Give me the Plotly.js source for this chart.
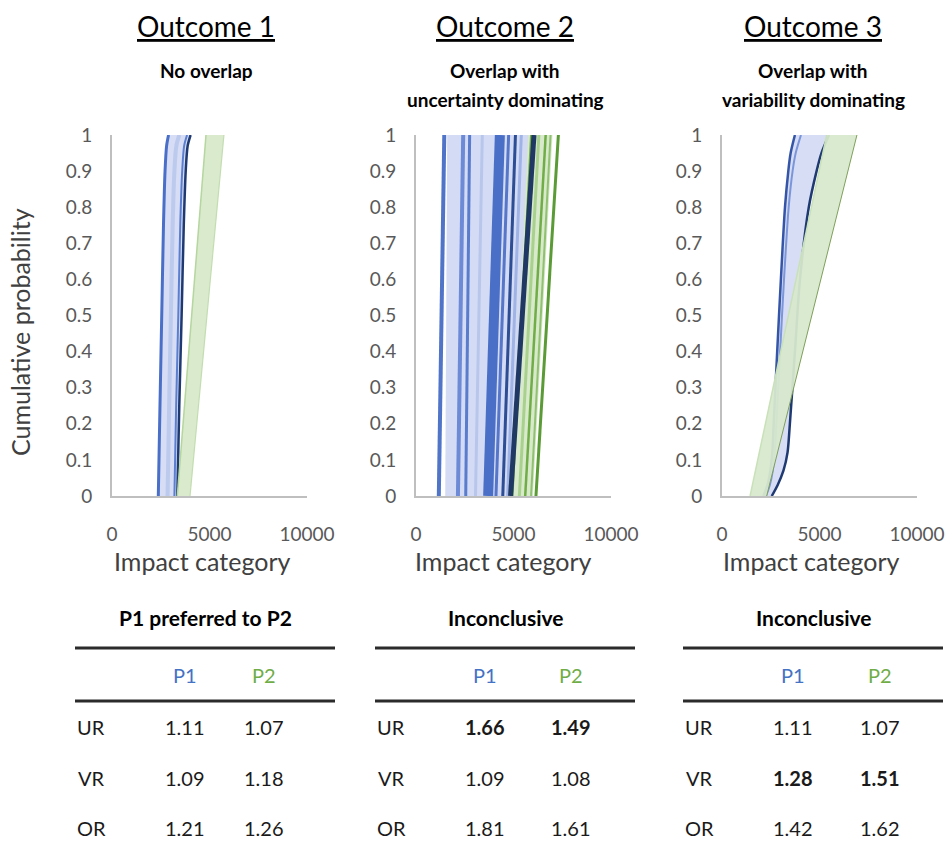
<!DOCTYPE html>
<html><head><meta charset="utf-8">
<script src="https://cdn.plot.ly/plotly-3.0.1.min.js"></script>
<style>html,body{margin:0;padding:0;background:#fff}#chart{width:952px;height:849px}</style>
</head><body><div id="chart"></div>
<script>
// ---------------- data ----------------
const outcomeTitles = ['Outcome 1', 'Outcome 2', 'Outcome 3'];
const outcomeSubtitles = [['No overlap'], ['Overlap with', 'uncertainty dominating'], ['Overlap with', 'variability dominating']];
const xTickVals = [0, 5000, 10000];
const xTickText = ['0', '5000', '10000'];
const yTickVals = [0, 0.1, 0.2, 0.3, 0.4, 0.5, 0.6, 0.7, 0.8, 0.9, 1];
const yTickText = ['0', '0.1', '0.2', '0.3', '0.4', '0.5', '0.6', '0.7', '0.8', '0.9', '1'];
const xAxisTitle = 'Impact category';
const yAxisTitle = 'Cumulative probability';

// Outcome 1: no overlap
const o1Prob = [0, 0.25, 0.5, 0.75, 0.9, 0.97, 1];
const o1P1Left = [2375, 2460, 2550, 2640, 2720, 2800, 2900];
const o1P1Mid = [2850, 2930, 3020, 3110, 3200, 3300, 3450];
const o1P1Inner = [3200, 3290, 3400, 3500, 3600, 3700, 3850];
const o1P1Right = [3350, 3450, 3570, 3680, 3780, 3880, 4030];
const o1P2Prob = [0, 1];
const o1P2Left = [3350, 4820];
const o1P2Right = [4000, 5740];

// Outcome 2: overlap, uncertainty dominating
const o2Prob = [0, 1];
const o2P1BandLeft = [1500, 1600];
const o2P1BandRight = [4900, 5750];
const o2P1Bottom = [1170, 2150, 2550, 3050, 3700, 4100, 4450, 4700, 4850];
const o2P1Top = [1450, 2420, 2750, 3400, 4300, 4750, 5100, 5400, 6050];
const o2P2BandLeft = [4750, 5500];
const o2P2BandRight = [6000, 7000];
const o2P2Bottom = [4950, 5300, 5600, 5900, 6150];
const o2P2Top = [5900, 6300, 6650, 6900, 7300];

// Outcome 3: overlap, variability dominating
const o3Prob = [0, 0.03, 0.07, 0.12, 0.2, 0.4, 0.6, 0.8, 0.9, 0.95, 1];
const o3P1Left = [2120, 2330, 2480, 2580, 2650, 2830, 3020, 3230, 3400, 3520, 3740];
const o3P1Inner = [2250, 2450, 2600, 2700, 2790, 2980, 3180, 3420, 3620, 3780, 4050];
const o3P1Right = [2550, 2850, 3150, 3360, 3480, 3740, 4000, 4450, 4850, 5100, 5490];
const o3P2Prob = [0, 1];
const o3P2Left = [1440, 5370];
const o3P2Right = [2290, 6920];

// Tables
const tableVerdicts = ['P1 preferred to P2', 'Inconclusive', 'Inconclusive'];
const tableColumns = ['P1', 'P2'];
const rowLabels = ['UR', 'VR', 'OR'];
const p1Values = [[1.11, 1.09, 1.21], [1.66, 1.09, 1.81], [1.11, 1.28, 1.42]];
const p2Values = [[1.07, 1.18, 1.26], [1.49, 1.08, 1.61], [1.07, 1.51, 1.62]];
const highlightedRow = [-1, 0, 1];

// ---------------- drawing ----------------
const FONT = 'Lato, "Open Sans", sans-serif';
const W = 952, H = 849;
const px = v => v / W;
const py = v => 1 - v / H;

const plotLeft = [112, 416, 722];
const plotWidth = 195;
const plotTop = 135, plotBottom = 496;

const BLUE = '#4472c4', GREEN = '#70ad47';
const traces = [];
const axSuffix = i => (i === 0 ? '' : String(i + 1));

// filled band between a left and a right cumulative curve (closed polygon built from the two curves)
function band(i, yL, xL, yR, xR, color) {
  const s = axSuffix(i);
  traces.push({type: 'scatter', mode: 'lines',
    x: xL.concat(xR.slice().reverse()), y: yL.concat(yR.slice().reverse()),
    xaxis: 'x' + s, yaxis: 'y' + s, fill: 'toself', fillcolor: color,
    line: {width: 0, color: color}, hoverinfo: 'skip', showlegend: false});
}
function curve(i, y, x, color, width) {
  const s = axSuffix(i);
  traces.push({type: 'scatter', mode: 'lines', x: x, y: y, xaxis: 'x' + s, yaxis: 'y' + s,
    line: {width: width, color: color, shape: 'spline', smoothing: 0.8}, hoverinfo: 'skip', showlegend: false});
}

// Panel 1
band(0, o1Prob, o1P1Left, o1Prob, o1P1Right, '#d6ddf4');
curve(0, o1Prob, o1P1Mid, '#bccaee', 4);
curve(0, o1Prob, o1P1Left, '#4a6fc8', 3);
curve(0, o1Prob, o1P1Inner, '#5b7fd0', 2);
curve(0, o1Prob, o1P1Right, '#1f3a72', 2.5);
band(0, o1P2Prob, o1P2Left, o1P2Prob, o1P2Right, '#d9eacd');
curve(0, o1P2Prob, o1P2Left, '#b5d69e', 1.5);
curve(0, o1P2Prob, o1P2Right, '#c3ddb1', 1.2);

// Panel 2
const o2P1Colors = ['#4f74c8', '#6d8ad6', '#5a7ccc', '#b8c6ec', '#4a6fc7', '#5576c9', '#2d4d94', '#9fb3e6', '#1f3864'];
const o2P1Widths = [4, 4, 3, 3, 10, 3, 3, 3, 5];
const o2P2Colors = ['#70ad47', '#a9d18e', '#70ad47', '#8fc16f', '#5b9b36'];
const o2P2Widths = [2, 3, 2.5, 2, 3];
band(1, o2Prob, o2P2BandLeft, o2Prob, o2P2BandRight, '#d8e9cc');
o2P2Bottom.forEach((b, k) => curve(1, o2Prob, [b, o2P2Top[k]], o2P2Colors[k], o2P2Widths[k]));
band(1, o2Prob, o2P1BandLeft, o2Prob, o2P1BandRight, 'rgba(208,216,243,0.92)');
o2P1Bottom.forEach((b, k) => curve(1, o2Prob, [b, o2P1Top[k]], o2P1Colors[k], o2P1Widths[k]));

// Panel 3
band(2, o3Prob, o3P1Left, o3Prob, o3P1Right, '#d6ddf4');
curve(2, o3Prob, o3P1Left, '#3556a8', 2.5);
curve(2, o3Prob, o3P1Inner, '#7b95da', 2);
curve(2, o3Prob, o3P1Right, '#1f3a72', 2.5);
band(2, o3P2Prob, o3P2Left, o3P2Prob, o3P2Right, 'rgba(216,233,205,0.94)');
curve(2, o3P2Prob, o3P2Left, '#c9e1b8', 1.5);
curve(2, o3P2Prob, o3P2Right, '#7f9f5a', 1);

// Axes
const layout = {
  width: W, height: H,
  margin: {l: 0, r: 0, t: 0, b: 0},
  paper_bgcolor: '#ffffff', plot_bgcolor: 'rgba(0,0,0,0)',
  showlegend: false,
  font: {family: FONT, color: '#595959'},
  annotations: [], shapes: []
};
for (let i = 0; i < 3; i++) {
  const s = axSuffix(i);
  layout['xaxis' + s] = {
    domain: [px(plotLeft[i]), px(plotLeft[i] + plotWidth)], anchor: 'y' + s,
    range: [0, 10000], tickvals: xTickVals, ticktext: xTickText,
    showgrid: false, zeroline: false, showline: true, linecolor: '#bfbfbf', linewidth: 2,
    ticks: '', ticklabelstandoff: 20, tickfont: {family: FONT, size: 19, color: '#595959'}, fixedrange: true
  };
  layout['yaxis' + s] = {
    domain: [py(plotBottom), py(plotTop)], anchor: 'x' + s,
    range: [0, 1], tickvals: yTickVals, ticktext: yTickText,
    showgrid: false, zeroline: false, showline: true, linecolor: '#bfbfbf', linewidth: 2,
    ticks: '', ticklabelstandoff: 14, tickfont: {family: FONT, size: 19, color: '#595959'}, fixedrange: true
  };
}

const ann = (x, y, text, size, color, extra) => layout.annotations.push(Object.assign({
  xref: 'paper', yref: 'paper', x: px(x), y: py(y), text: text, showarrow: false,
  xanchor: 'center', yanchor: 'middle', font: {family: FONT, size: size, color: color}
}, extra || {}));

const titleCenters = [206, 505, 813];
const axisTitleCenters = [202, 503, 811];
for (let i = 0; i < 3; i++) {
  ann(titleCenters[i], 26, '<u>' + outcomeTitles[i] + '</u>', 28, '#000000');
  outcomeSubtitles[i].forEach((line, k) => ann(titleCenters[i], 70 + 30 * k, '<b>' + line + '</b>', 19, '#000000'));
  ann(axisTitleCenters[i], 561, xAxisTitle, 25, '#404040');
}
ann(20, 332, yAxisTitle, 25, '#404040', {textangle: -90});

// Tables
const tableLeft = [75, 375, 683];
const tableWidth = 260;
const labelOffset = 16, p1Offset = 110, p2Offset = [189, 196, 197];
const rowY = [727, 778, 828];
for (let t = 0; t < 3; t++) {
  const L = tableLeft[t];
  ann(L + tableWidth / 2, 617, '<b>' + tableVerdicts[t] + '</b>', 21, '#000000');
  [648, 701].forEach(yy => layout.shapes.push({type: 'line', xref: 'paper', yref: 'paper',
    x0: px(L), x1: px(L + tableWidth), y0: py(yy), y1: py(yy), line: {color: '#2b2b2b', width: 3}}));
  ann(L + p1Offset, 675, tableColumns[0], 20, BLUE);
  ann(L + p2Offset[t], 675, tableColumns[1], 20, GREEN);
  rowLabels.forEach((lab, r) => {
    const b = highlightedRow[t] === r;
    ann(L + labelOffset, rowY[r], lab, 20, '#1a1a1a');
    const v1 = p1Values[t][r].toFixed(2), v2 = p2Values[t][r].toFixed(2);
    ann(L + p1Offset, rowY[r], b ? '<b>' + v1 + '</b>' : v1, 20, '#1a1a1a');
    ann(L + p2Offset[t], rowY[r], b ? '<b>' + v2 + '</b>' : v2, 20, '#1a1a1a');
  });
}

Plotly.newPlot('chart', traces, layout, {staticPlot: true, displayModeBar: false});
</script>
</body></html>
